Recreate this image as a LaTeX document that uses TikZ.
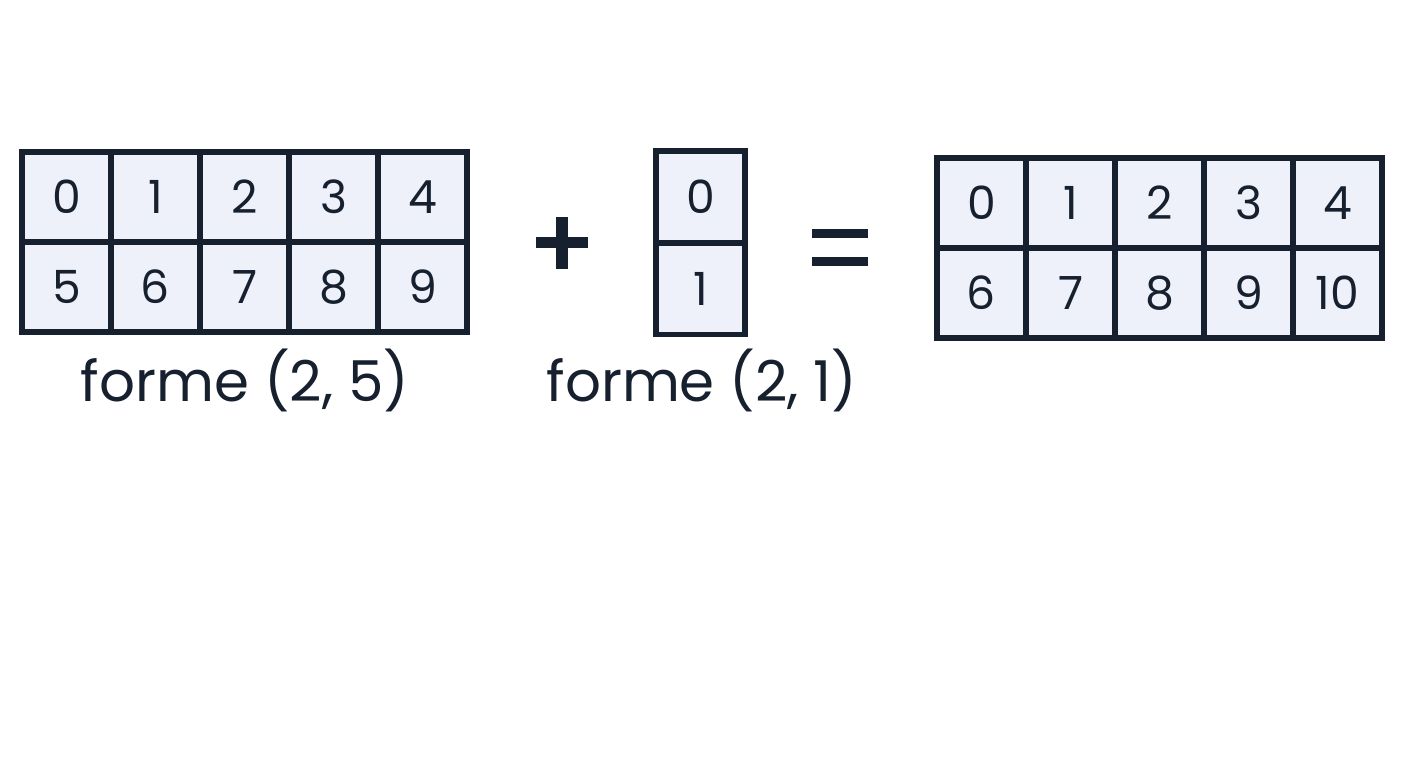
\documentclass[tikz,border=0pt]{standalone}
\usepackage{fontspec}
\setmainfont{Poppins}
\definecolor{cellfill}{HTML}{EEF0FA}
\definecolor{ink}{HTML}{16202E}
\begin{document}
\begin{tikzpicture}[%
      x=0.01cm, y=-0.01cm,
      cell/.style={draw=ink, line width=1.6pt, fill=cellfill, minimum width=0.89cm, minimum height=0.9cm, inner sep=0pt, font=\fontsize{13}{13}\selectfont, text=ink},
      lbl/.style={font=\fontsize{16}{16}\selectfont, text=ink},
      ]
      \useasboundingbox (0,0) rectangle (1408,768);

      % left array
      \foreach \i in {0,...,4} {
        \node [cell] (a0\i) at (66.5+89*\i,197) {\i};
        \pgfmathtruncatemacro{\v}{\i+5}
        \node [cell] (a1\i) at (66.5+89*\i,287) {\v};
      }
      \node [lbl] (la) at (245,380) {forme (2, 5)};

      % plus
      \node [fill=ink, minimum width=0.52cm, minimum height=0.11cm, inner sep=0pt] (plush) at (562,243) {};
      \node [fill=ink, minimum width=0.11cm, minimum height=0.52cm, inner sep=0pt] (plusv) at (562,243) {};

      % column array
      \node [cell, minimum height=0.92cm] (b0) at (700.5,197) {0};
      \node [cell, minimum height=0.91cm] (b1) at (700.5,289) {1};
      \node [lbl] (lb) at (702,380) {forme (2, 1)};

      % equals
      \node [fill=ink, minimum width=0.55cm, minimum height=0.09cm, inner sep=0pt] (eqa) at (840,234) {};
      \node [fill=ink, minimum width=0.55cm, minimum height=0.09cm, inner sep=0pt] (eqb) at (840,262) {};

      % result array
      \foreach \i in {0,...,4} {
        \node [cell] (c0\i) at (981.5+89*\i,203) {\i};
        \pgfmathtruncatemacro{\v}{\i+6}
        \node [cell] (c1\i) at (981.5+89*\i,293) {\v};
      }
\end{tikzpicture}
\end{document}
